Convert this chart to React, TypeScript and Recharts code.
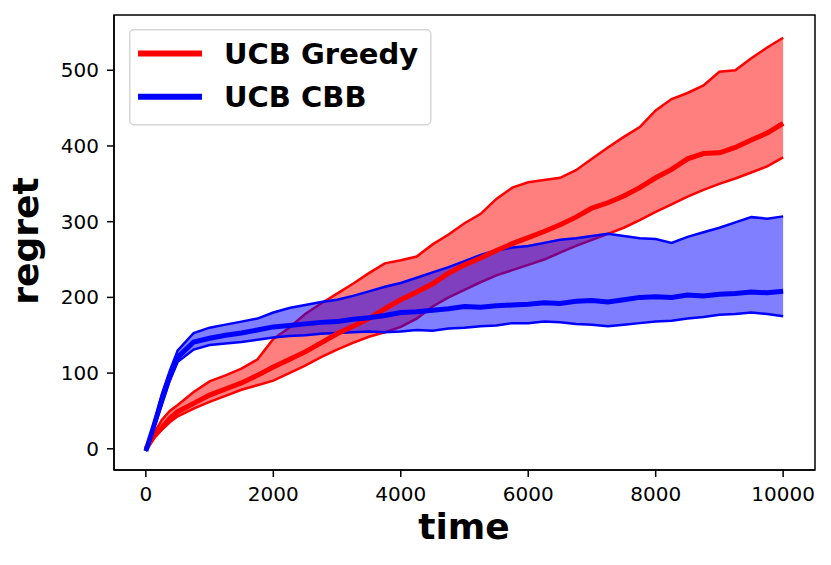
import React from "react";
import {
  ComposedChart,
  Area,
  Line,
  XAxis,
  YAxis,
  ReferenceArea,
  Legend,
} from "recharts";

// time steps
const time = [
  0, 125, 250, 375, 500, 750, 1000, 1250, 1500, 1750, 2000, 2250, 2500, 2750,
  3000, 3250, 3500, 3750, 4000, 4250, 4500, 4750, 5000, 5250, 5500, 5750, 6000,
  6250, 6500, 6750, 7000, 7250, 7500, 7750, 8000, 8250, 8500, 8750, 9000, 9250,
  9500, 9750, 10000,
];

// UCB Greedy: upper bound, mean, lower bound
const greedyHigh = [
  0, 20, 38, 50, 58, 75, 89, 97, 106, 118, 145, 160, 178, 192, 205, 218, 232,
  245, 249, 254, 270, 283, 298, 310, 330, 345, 352, 355, 358, 368, 383, 398, 412,
  425, 447, 462, 470, 480, 498, 500, 516, 530, 543,
];
const greedyMean = [
  0, 16, 28, 40, 49, 60, 71, 79, 87, 97, 108, 118, 128, 140, 152, 162, 172, 185,
  197, 207, 218, 232, 243, 252, 262, 271, 279, 287, 296, 306, 318, 325, 334, 345,
  358, 369, 383, 390, 391, 398, 408, 417, 430,
];
const greedyLow = [
  0, 14, 25, 35, 43, 53, 62, 70, 78, 84, 90, 100, 110, 121, 131, 140, 148, 154,
  161, 172, 188, 200, 210, 220, 229, 236, 243, 250, 259, 268, 276, 284, 292, 302,
  313, 323, 333, 342, 350, 357, 365, 373, 385,
];

// UCB CBB: upper bound, mean, lower bound
const cbbHigh = [
  -3, 33, 72, 103, 130, 153, 160, 164, 168, 172, 180, 186, 190, 194, 197, 202,
  208, 214, 219, 226, 233, 240, 248, 256, 262, 266, 268, 272, 276, 278, 281, 284,
  281, 278, 277, 272, 280, 286, 292, 299, 306, 304, 307,
];
const cbbMean = [
  -3, 30, 65, 96, 121, 141, 146, 150, 153, 157, 161, 163, 165, 167, 168, 171,
  173, 176, 180, 181, 183, 185, 188, 187, 189, 190, 191, 193, 192, 195, 196, 194,
  197, 200, 201, 200, 203, 202, 204, 205, 207, 206, 208,
];
const cbbLow = [
  -3, 27, 58, 90, 115, 131, 137, 139, 141, 144, 147, 149, 150, 152, 153, 154,
  155, 154, 155, 157, 156, 159, 160, 162, 163, 166, 166, 168, 167, 165, 164, 162,
  164, 166, 168, 169, 172, 174, 177, 178, 180, 178, 175,
];

const seriesNames = ["UCB Greedy", "UCB CBB"];
const seriesColors = ["#ff0000", "#0000ff"];
const xTicks = [0, 2000, 4000, 6000, 8000, 10000];
const yTicks = [0, 100, 200, 300, 400, 500];

const X_DOMAIN: [number, number] = [-500, 10500];
const Y_DOMAIN: [number, number] = [-28, 573];

const FONT = "DejaVu Sans";

const data = time.map((t, i) => ({
  t,
  gHigh: greedyHigh[i],
  gMean: greedyMean[i],
  gLow: greedyLow[i],
  gBand: [greedyLow[i], greedyHigh[i]],
  cHigh: cbbHigh[i],
  cMean: cbbMean[i],
  cLow: cbbLow[i],
  cBand: [cbbLow[i], cbbHigh[i]],
}));

function LegendBox() {
  return (
    <svg width={303} height={97} style={{ display: "block" }}>
      <rect
        x={0.75}
        y={0.75}
        width={301}
        height={95}
        rx={4}
        fill="rgba(255,255,255,0.8)"
        stroke="#d6d6d6"
        strokeWidth={1.5}
      />
      {seriesNames.map((name, i) => (
        <g key={name}>
          <line
            x1={9}
            x2={73}
            y1={24.5 + i * 43.3}
            y2={24.5 + i * 43.3}
            stroke={seriesColors[i]}
            strokeWidth={6}
          />
          <text
            x={95}
            y={34.5 + i * 43.3}
            fontFamily={FONT}
            fontWeight="bold"
            fontSize={29}
            fill="#000"
          >
            {name}
          </text>
        </g>
      ))}
    </svg>
  );
}

function YTitle() {
  return (
    <text
      x={37.5}
      y={241}
      transform="rotate(-90 37.5 241)"
      textAnchor="middle"
      fontFamily={FONT}
      fontWeight="bold"
      fontSize={36}
      fill="#000"
    >
      regret
    </text>
  );
}

function XTitle() {
  return (
    <text
      x={464}
      y={539}
      textAnchor="middle"
      fontFamily={FONT}
      fontWeight="bold"
      fontSize={36}
      fill="#000"
    >
      time
    </text>
  );
}

const tickStyle = { fill: "#000", fontSize: 20, fontFamily: FONT };

export default function App() {
  return (
    <div style={{ position: "absolute", left: 0, top: 0, background: "#fff" }}>
      <ComposedChart
        width={831}
        height={565}
        data={data}
        margin={{ top: 15, right: 16, bottom: 0, left: 0 }}
      >
        <XAxis
          dataKey="t"
          type="number"
          domain={X_DOMAIN}
          ticks={xTicks}
          height={95}
          tick={tickStyle}
          tickSize={7}
          tickMargin={10}
          axisLine={{ stroke: "#000", strokeWidth: 1.5 }}
          tickLine={{ stroke: "#000", strokeWidth: 1.5 }}
          label={<XTitle />}
        />
        <YAxis
          type="number"
          domain={Y_DOMAIN}
          ticks={yTicks}
          width={114}
          tick={tickStyle}
          tickSize={7}
          tickMargin={8}
          axisLine={{ stroke: "#000", strokeWidth: 1.5 }}
          tickLine={{ stroke: "#000", strokeWidth: 1.5 }}
          label={<YTitle />}
        />
        <ReferenceArea
          x1={X_DOMAIN[0]}
          x2={X_DOMAIN[1]}
          y1={Y_DOMAIN[0]}
          y2={Y_DOMAIN[1]}
          fill="none"
          stroke="#000"
          strokeWidth={1.5}
          ifOverflow="visible"
        />
        <Area
          dataKey="gBand"
          type="linear"
          fill="#ff0000"
          fillOpacity={0.5}
          stroke="none"
          isAnimationActive={false}
          legendType="none"
          zIndex={100}
        />
        <Line dataKey="gHigh" type="linear" stroke="#ff0000" strokeWidth={2.5} dot={false} activeDot={false} isAnimationActive={false} zIndex={101} />
        <Line dataKey="gLow" type="linear" stroke="#ff0000" strokeWidth={2.5} dot={false} activeDot={false} isAnimationActive={false} zIndex={101} />
        <Area
          dataKey="cBand"
          type="linear"
          fill="#0000ff"
          fillOpacity={0.5}
          stroke="none"
          isAnimationActive={false}
          legendType="none"
          zIndex={102}
        />
        <Line dataKey="cHigh" type="linear" stroke="#0000ff" strokeWidth={2.5} dot={false} activeDot={false} isAnimationActive={false} zIndex={103} />
        <Line dataKey="cLow" type="linear" stroke="#0000ff" strokeWidth={2.5} dot={false} activeDot={false} isAnimationActive={false} zIndex={103} />
        <Line dataKey="gMean" type="linear" stroke="#ff0000" strokeWidth={5} dot={false} activeDot={false} isAnimationActive={false} zIndex={104} />
        <Line dataKey="cMean" type="linear" stroke="#0000ff" strokeWidth={5} dot={false} activeDot={false} isAnimationActive={false} zIndex={105} />
        <Legend
          layout="horizontal"
          verticalAlign="middle"
          align="center"
          content={<LegendBox />}
          wrapperStyle={{ left: 129, top: 29, width: 303, height: 97 }}
        />
      </ComposedChart>
    </div>
  );
}
